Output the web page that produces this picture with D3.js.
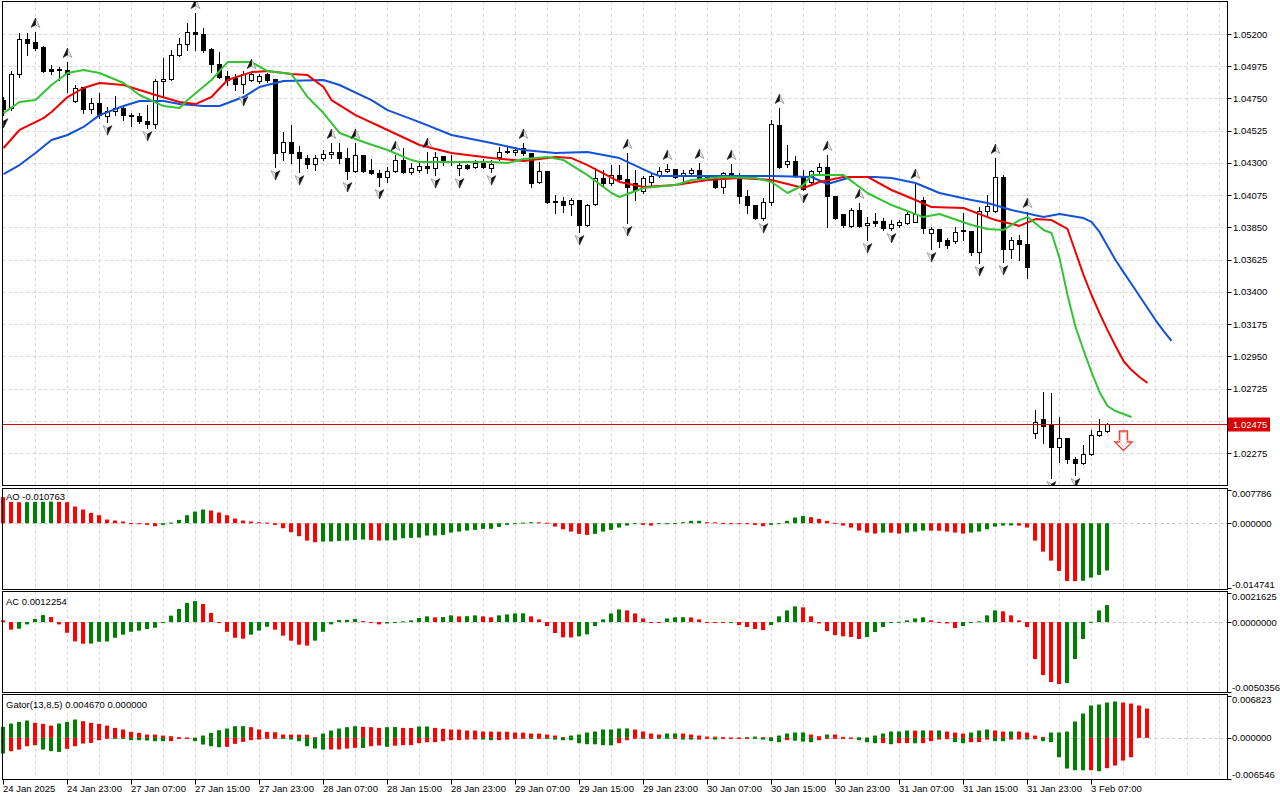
<!DOCTYPE html>
<html>
<head>
<meta charset="utf-8">
<script src="https://cdn.jsdelivr.net/npm/d3@7"></script>
<style>
  body { margin: 0; background: #fff; }
  svg { display: block; font-family: "Liberation Sans", Arial, sans-serif; }
</style>
</head>
<body>
<svg id="chart" width="1280" height="800"></svg>
<script>
// H1 bars, 24 Jan 2025 15:00 .. 3 Feb 2025 09:00
const opens = [
  1.04739,1.04683,1.04920,1.05165,1.05144,1.05109,1.04955,1.04955,1.04948,1.04732,
  1.04830,1.04676,1.04718,1.04627,1.04662,1.04683,1.04634,1.04627,1.04592,1.04571,
  1.04872,1.04886,1.05053,1.05130,1.05214,1.05200,1.05095,1.04990,1.04907,1.04893,
  1.04851,1.04879,1.04872,1.04920,1.04886,1.04376,1.04446,1.04376,1.04334,1.04292,
  1.04334,1.04362,1.04376,1.04334,1.04243,1.04355,1.04250,1.04229,1.04202,1.04243,
  1.04320,1.04236,1.04250,1.04278,1.04264,1.04348,1.04313,1.04264,1.04285,1.04271,
  1.04299,1.04264,1.04341,1.04383,1.04376,1.04404,1.04369,1.04167,1.04243,1.04034,
  1.04034,1.04013,1.04041,1.03867,1.04013,1.04195,1.04160,1.04215,1.04188,1.04160,
  1.04104,1.04167,1.04215,1.04243,1.04257,1.04209,1.04229,1.04250,1.04209,1.04195,
  1.04132,1.04229,1.04215,1.04069,1.04006,1.03915,1.04027,1.04565,1.04292,1.04313,
  1.04209,1.04167,1.04243,1.04271,1.04069,1.03943,1.03860,1.03971,1.03867,1.03894,
  1.03894,1.03846,1.03867,1.03881,1.03887,1.04041,1.03811,1.03839,1.03762,1.03755,
  1.03825,1.03825,1.03678,1.03964,1.03964,1.04202,1.03699,1.03762,1.03734,1.02415,
  1.02512,1.02471,1.02317,1.02380,1.02233,1.02205,1.02268,1.02401,1.02429
];
const highs = [
  1.04760,1.04941,1.05207,1.05207,1.05214,1.05116,1.04983,1.04969,1.05004,1.04844,
  1.04830,1.04753,1.04788,1.04690,1.04767,1.04690,1.04648,1.04648,1.04704,1.04886,
  1.05032,1.05088,1.05172,1.05276,1.05346,1.05242,1.05102,1.05074,1.04941,1.04920,
  1.04941,1.04927,1.04920,1.04927,1.04886,1.04516,1.04565,1.04418,1.04355,1.04355,
  1.04390,1.04439,1.04439,1.04404,1.04439,1.04355,1.04327,1.04250,1.04271,1.04355,
  1.04404,1.04299,1.04306,1.04376,1.04376,1.04348,1.04355,1.04299,1.04292,1.04320,
  1.04327,1.04320,1.04411,1.04418,1.04411,1.04439,1.04369,1.04306,1.04243,1.04076,
  1.04062,1.04055,1.04041,1.04013,1.04264,1.04250,1.04285,1.04285,1.04369,1.04250,
  1.04209,1.04229,1.04271,1.04292,1.04257,1.04250,1.04264,1.04299,1.04215,1.04209,
  1.04236,1.04292,1.04229,1.04111,1.04006,1.04055,1.04599,1.04683,1.04425,1.04348,
  1.04250,1.04250,1.04299,1.04355,1.04069,1.03943,1.03985,1.04020,1.03922,1.03950,
  1.03915,1.03901,1.03901,1.03957,1.04160,1.04062,1.03853,1.03839,1.03776,1.03853,
  1.03950,1.03825,1.03992,1.04076,1.04334,1.04215,1.03783,1.03797,1.03957,1.02575,
  1.02701,1.02694,1.02526,1.02380,1.02247,1.02331,1.02436,1.02512,1.02484
];
const lows = [
  1.04634,1.04669,1.04900,1.05053,1.05088,1.04934,1.04920,1.04879,1.04795,1.04725,
  1.04648,1.04648,1.04613,1.04585,1.04634,1.04599,1.04558,1.04578,1.04544,1.04544,
  1.04760,1.04879,1.05046,1.05088,1.05088,1.05074,1.04934,1.04893,1.04844,1.04809,
  1.04788,1.04872,1.04858,1.04865,1.04271,1.04320,1.04299,1.04236,1.04264,1.04250,
  1.04320,1.04334,1.04299,1.04188,1.04236,1.04236,1.04222,1.04139,1.04167,1.04236,
  1.04229,1.04222,1.04236,1.04229,1.04215,1.04285,1.04285,1.04215,1.04257,1.04264,
  1.04264,1.04236,1.04320,1.04369,1.04355,1.04355,1.04132,1.04160,1.04020,1.03950,
  1.03957,1.03936,1.03818,1.03860,1.04006,1.04146,1.04146,1.04181,1.03881,1.04041,
  1.04090,1.04146,1.04202,1.04236,1.04195,1.04167,1.04215,1.04188,1.04181,1.04125,
  1.04090,1.04195,1.04020,1.03950,1.03908,1.03901,1.04006,1.04264,1.04271,1.04202,
  1.04111,1.04153,1.04229,1.03852,1.03908,1.03852,1.03852,1.03852,1.03762,1.03860,
  1.03832,1.03832,1.03852,1.03874,1.03887,1.03811,1.03699,1.03713,1.03706,1.03741,
  1.03762,1.03657,1.03601,1.03922,1.03957,1.03608,1.03636,1.03622,1.03496,1.02380,
  1.02345,1.02101,1.02212,1.02205,1.02122,1.02198,1.02261,1.02394,1.02422
];
const closes = [
  1.04676,1.04920,1.05165,1.05137,1.05102,1.04941,1.04941,1.04948,1.04920,1.04823,
  1.04676,1.04718,1.04634,1.04662,1.04683,1.04634,1.04627,1.04592,1.04571,1.04872,
  1.04886,1.05053,1.05130,1.05214,1.05200,1.05088,1.04990,1.04900,1.04879,1.04851,
  1.04920,1.04920,1.04907,1.04879,1.04369,1.04446,1.04369,1.04334,1.04292,1.04334,
  1.04362,1.04376,1.04334,1.04243,1.04355,1.04243,1.04229,1.04202,1.04243,1.04320,
  1.04236,1.04264,1.04278,1.04264,1.04341,1.04306,1.04306,1.04285,1.04264,1.04299,
  1.04271,1.04292,1.04376,1.04376,1.04390,1.04369,1.04160,1.04243,1.04027,1.04027,
  1.04006,1.04041,1.03867,1.04006,1.04195,1.04160,1.04215,1.04188,1.04132,1.04111,
  1.04195,1.04209,1.04243,1.04257,1.04202,1.04229,1.04250,1.04195,1.04195,1.04132,
  1.04229,1.04202,1.04069,1.04006,1.03915,1.04027,1.04572,1.04271,1.04313,1.04209,
  1.04118,1.04243,1.04271,1.04069,1.03915,1.03867,1.03971,1.03860,1.03881,1.03881,
  1.03846,1.03874,1.03887,1.03943,1.03943,1.03846,1.03839,1.03755,1.03727,1.03818,
  1.03832,1.03678,1.03964,1.03999,1.04202,1.03699,1.03762,1.03734,1.03573,1.02491,
  1.02463,1.02317,1.02380,1.02233,1.02205,1.02268,1.02401,1.02429,1.02475
];

// Alligator lines as [bar, price], already shifted forward (8 / 5 / 3 bars)
const jaw = [
  [0,1.04222],[2,1.04285],[4,1.04369],[6,1.04460],[8,1.04495],[10,1.04551],[12,1.04634],
  [15,1.04697],[17,1.04732],[20,1.04732],[22,1.04711],[25,1.04697],[27,1.04697],[30,1.04760],
  [32,1.04830],[35,1.04872],[40,1.04879],[42,1.04844],[46,1.04739],[48,1.04669],[52,1.04585],
  [56,1.04495],[61,1.04439],[65,1.04390],[69,1.04369],[73,1.04376],[77,1.04334],[81,1.04229],
  [82,1.04209],[88,1.04209],[92,1.04209],[96,1.04209],[101,1.04202],[103,1.04153],[106,1.04202],
  [109,1.04202],[111,1.04195],[114,1.04160],[117,1.04090],[121,1.04041],[123,1.04020],
  [126,1.03971],[130,1.03922],[132,1.03943],[135,1.03915],[136,1.03888],[137,1.03818],
  [138,1.03720],[139,1.03622],[140,1.03538],[141,1.03455],[142,1.03371],[143,1.03287],
  [144,1.03203],[145,1.03127],[146,1.03057]
];
const teeth = [
  [0,1.04404],[2,1.04530],[5,1.04613],[6,1.04655],[8,1.04760],[10,1.04823],[12,1.04858],
  [15,1.04844],[17,1.04809],[19,1.04774],[22,1.04725],[24,1.04711],[26,1.04760],[28,1.04879],
  [31,1.04934],[33,1.04941],[36,1.04920],[38,1.04913],[40,1.04830],[41,1.04739],[44,1.04634],
  [48,1.04530],[52,1.04425],[56,1.04369],[61,1.04334],[65,1.04313],[69,1.04341],[71,1.04334],
  [73,1.04285],[77,1.04167],[80,1.04132],[84,1.04146],[88,1.04181],[92,1.04195],[96,1.04181],
  [100,1.04125],[102,1.04167],[105,1.04202],[108,1.04202],[111,1.04111],[114,1.04041],
  [116,1.03992],[120,1.03985],[124,1.03901],[127,1.03860],[129,1.03908],[131,1.03901],
  [133,1.03839],[134,1.03678],[135,1.03518],[136,1.03378],[137,1.03252],[138,1.03133],
  [139,1.03022],[140,1.02917],[141,1.02854],[142,1.02806],[143,1.02764]
];
const lips = [
  [0,1.04648],[2,1.04725],[4,1.04739],[6,1.04844],[8,1.04928],[10,1.04948],[12,1.04928],
  [15,1.04858],[17,1.04774],[20,1.04697],[22,1.04683],[23,1.04739],[26,1.04879],[28,1.05004],
  [31,1.05004],[33,1.04941],[36,1.04920],[38,1.04760],[40,1.04648],[42,1.04509],[45,1.04446],
  [48,1.04390],[51,1.04320],[52,1.04306],[56,1.04306],[61,1.04306],[63,1.04299],[65,1.04327],
  [68,1.04341],[70,1.04320],[73,1.04215],[76,1.04090],[77,1.04062],[80,1.04125],[84,1.04146],
  [86,1.04181],[90,1.04202],[94,1.04195],[96,1.04167],[98,1.04090],[100,1.04146],[101,1.04215],
  [105,1.04215],[108,1.04090],[111,1.04006],[115,1.03922],[117,1.03943],[121,1.03867],
  [123,1.03839],[125,1.03832],[127,1.03901],[128,1.03922],[130,1.03832],[131,1.03811],
  [132,1.03636],[133,1.03378],[134,1.03155],[135,1.02994],[136,1.02840],[137,1.02701],
  [138,1.02603],[139,1.02568],[140,1.02547],[141,1.02526]
];

// Bill Williams fractals (bar indices)
const fractalsUp = [4,8,24,31,41,44,49,53,65,78,83,87,91,97,103,107,114,124,128];
const fractalsDown = [0,13,18,30,34,37,43,47,54,57,61,72,78,95,100,108,111,116,122,125,131,134];

const sellSignal = { bar: 140, price: 1.02430 };

const aoValues = [
  0.00592,0.00484,0.00478,0.00481,0.00485,0.00488,0.00492,0.00486,0.00479,0.00380,
  0.00311,0.00235,0.00182,0.00084,0.00061,0.00038,0.00003,-0.00015,-0.00038,-0.00068,
  -0.00038,0.00015,0.00076,0.00182,0.00266,0.00311,0.00289,0.00243,0.00182,0.00106,
  0.00061,0.00038,0.00023,0.00015,-0.00038,-0.00114,-0.00205,-0.00296,-0.00395,-0.00433,
  -0.00418,-0.00416,-0.00403,-0.00395,-0.00380,-0.00372,-0.00380,-0.00395,-0.00392,-0.00388,
  -0.00342,-0.00335,-0.00327,-0.00281,-0.00279,-0.00266,-0.00213,-0.00190,-0.00167,-0.00152,
  -0.00129,-0.00127,-0.00084,-0.00038,-0.00008,0.00015,0.00023,0.00021,0.00012,-0.00076,
  -0.00137,-0.00190,-0.00243,-0.00266,-0.00243,-0.00190,-0.00152,-0.00099,-0.00053,-0.00023,
  -0.00038,-0.00053,-0.00015,-0.00008,0.00002,0.00023,0.00053,0.00055,0.00023,0.00021,
  0.00008,-0.00001,-0.00008,-0.00015,-0.00038,-0.00068,-0.00038,-0.00008,0.00053,0.00129,
  0.00167,0.00137,0.00099,0.00053,0.00008,-0.00053,-0.00099,-0.00167,-0.00213,-0.00235,
  -0.00213,-0.00215,-0.00235,-0.00213,-0.00190,-0.00167,-0.00169,-0.00172,-0.00190,-0.00213,
  -0.00235,-0.00213,-0.00190,-0.00137,-0.00076,-0.00053,-0.00051,-0.00055,-0.00099,-0.00395,
  -0.00646,-0.00851,-0.01086,-0.01314,-0.01318,-0.01310,-0.01238,-0.01177,-0.010763
];
const acValues = [
  0.00012,-0.00055,-0.00048,-0.00017,0.00022,0.00050,0.00036,-0.00017,-0.00077,-0.00139,
  -0.00156,-0.00155,-0.00142,-0.00140,-0.00113,-0.00091,-0.00070,-0.00062,-0.00050,-0.00041,
  -0.00005,0.00046,0.00094,0.00137,0.00151,0.00130,0.00065,-0.00005,-0.00070,-0.00113,
  -0.00120,-0.00091,-0.00062,-0.00034,-0.00055,-0.00098,-0.00134,-0.00163,-0.00170,-0.00134,
  -0.00070,-0.00017,0.00014,0.00016,0.00022,0.00007,-0.00002,-0.00017,-0.00010,-0.00002,
  0.00005,0.00012,0.00029,0.00041,0.00034,0.00036,0.00048,0.00041,0.00042,0.00048,
  0.00041,0.00034,0.00048,0.00055,0.00062,0.00063,0.00041,0.00019,-0.00029,-0.00079,
  -0.00110,-0.00111,-0.00103,-0.00089,-0.00029,0.00019,0.00062,0.00091,0.00084,0.00062,
  0.00026,-0.00002,-0.00003,0.00026,0.00034,0.00035,0.00033,0.00019,0.00001,-0.00002,
  -0.00007,-0.00006,-0.00022,-0.00036,-0.00050,-0.00058,-0.00022,0.00041,0.00084,0.00113,
  0.00106,0.00041,-0.00010,-0.00065,-0.00094,-0.00103,-0.00108,-0.00122,-0.00108,-0.00072,
  -0.00036,-0.00007,0.00002,0.00012,0.00026,0.00034,0.00012,0.00001,-0.00010,-0.00043,
  -0.00029,-0.00001,0.00005,0.00048,0.00084,0.00077,0.00048,0.00012,-0.00036,-0.00266,
  -0.00381,-0.00432,-0.00446,-0.00439,-0.00266,-0.00122,0.00002,0.00084,0.0012254
];
const gatorUp = [
  0.00175,0.00228,0.00255,0.00276,0.00239,0.00223,0.00196,0.00228,0.00255,0.00292,
  0.00265,0.00239,0.00223,0.00196,0.00159,0.00133,0.00095,0.00080,0.00053,0.00052,
  0.00037,0.00027,0.00011,0.00005,0.00002,0.00037,0.00080,0.00122,0.00149,0.00186,
  0.00187,0.00170,0.00133,0.00095,0.00090,0.00053,0.00052,0.00051,0.00050,0.00010,
  0.00069,0.00117,0.00149,0.00170,0.00186,0.00175,0.00170,0.00159,0.00170,0.00172,
  0.00159,0.00158,0.00180,0.00181,0.00159,0.00143,0.00133,0.00132,0.00117,0.00116,
  0.00101,0.00100,0.00099,0.00098,0.00085,0.00084,0.00069,0.00068,0.00053,0.00037,
  0.00011,0.00037,0.00053,0.00085,0.00101,0.00133,0.00134,0.00149,0.00150,0.00133,
  0.00101,0.00069,0.00053,0.00069,0.00070,0.00069,0.00053,0.00037,0.00021,0.00020,
  0.00010,0.00005,0.00004,0.00011,0.00021,0.00010,0.00009,0.00037,0.00069,0.00085,
  0.00086,0.00053,0.00027,0.00053,0.00052,0.00016,0.00005,0.00008,0.00004,0.00037,
  0.00069,0.00101,0.00102,0.00117,0.00116,0.00118,0.00117,0.00118,0.00101,0.00085,
  0.00069,0.00085,0.00117,0.00133,0.00117,0.00101,0.00102,0.00101,0.00085,0.00037,
  0.00016,0.00085,0.00086,0.00101,0.00260,0.00387,0.00515,0.00531,0.00562,0.00578,
  0.00562,0.00546,0.00515,0.00467
];
const gatorDown = [
  -0.00249,-0.00212,-0.00186,-0.00133,-0.00117,-0.00186,-0.00212,-0.00223,-0.00175,-0.00133,
  -0.00090,-0.00080,-0.00037,-0.00010,-0.00011,-0.00012,-0.00037,-0.00038,-0.00042,-0.00053,
  -0.00054,-0.00052,-0.00016,-0.00005,-0.00053,-0.00106,-0.00133,-0.00149,-0.00143,-0.00095,
  -0.00064,-0.00037,-0.00027,-0.00016,-0.00005,-0.00011,-0.00027,-0.00053,-0.00133,-0.00170,
  -0.00186,-0.00185,-0.00184,-0.00170,-0.00159,-0.00160,-0.00133,-0.00122,-0.00143,-0.00125,
  -0.00117,-0.00116,-0.00085,-0.00069,-0.00068,-0.00053,-0.00037,-0.00036,-0.00027,-0.00026,
  -0.00027,-0.00037,-0.00036,-0.00027,-0.00011,-0.00010,-0.00011,-0.00010,-0.00012,-0.00027,
  -0.00037,-0.00038,-0.00085,-0.00101,-0.00102,-0.00117,-0.00118,-0.00085,-0.00037,-0.00011,
  -0.00012,-0.00011,-0.00012,-0.00013,-0.00011,-0.00027,-0.00028,-0.00027,-0.00011,-0.00027,
  -0.00011,-0.00005,-0.00004,-0.00003,-0.00011,-0.00027,-0.00053,-0.00069,-0.00037,-0.00045,
  -0.00060,-0.00069,-0.00037,-0.00011,-0.00010,-0.00005,-0.00003,-0.00037,-0.00069,-0.00085,
  -0.00084,-0.00101,-0.00085,-0.00084,-0.00086,-0.00085,-0.00053,-0.00027,-0.00021,-0.00069,
  -0.00085,-0.00069,-0.00068,-0.00027,-0.00053,-0.00054,-0.00027,-0.00026,-0.00027,-0.00021,
  -0.00053,-0.00069,-0.00308,-0.00488,-0.00515,-0.00516,-0.00514,-0.00531,-0.00483,-0.00440,
  -0.00361,-0.00308
];

const priceTicks = [1.05200,1.04975,1.04750,1.04525,1.04300,1.04075,1.03850,1.03625,1.03400,1.03175,1.02950,1.02725,1.02500,1.02275];
const aoTicks = [0.007786, 0, -0.014741];
const acTicks = [0.0021625, 0, -0.0050356];
const gatorTicks = [0.006823, 0, -0.006546];
const timeLabels = [
  "24 Jan 2025","24 Jan 23:00","27 Jan 07:00","27 Jan 15:00","27 Jan 23:00","28 Jan 07:00",
  "28 Jan 15:00","28 Jan 23:00","29 Jan 07:00","29 Jan 15:00","29 Jan 23:00","30 Jan 07:00",
  "30 Jan 15:00","30 Jan 23:00","31 Jan 07:00","31 Jan 15:00","31 Jan 23:00","3 Feb 07:00"
];

const svg = d3.select("#chart");

const plotLeft = 2.5;
const plotRight = 1227.5;
const axisX = 1233;
const green = "#008000";
const red = "#ff0000";
const gridColor = "#d4d4d4";

const panels = {
  main: { top: 1.5, bottom: 485.5 },
  ao: { top: 488.5, bottom: 589.5 },
  ac: { top: 591.5, bottom: 692.5 },
  gator: { top: 694.5, bottom: 779.5 },
};

// one bar every 8 px
const x = d3.scaleLinear().domain([0, 153]).range([3, 3 + 8 * 153]);
const y = d3.scaleLinear().domain([1.02275, 1.052]).range([453, 34]);
const yAO = d3.scaleLinear().domain([-0.014741, 0.007786]).range([588, 489]);
const yAC = d3.scaleLinear().domain([-0.0050356, 0.0021625]).range([692, 592]);
const yGator = d3.scaleLinear().domain([-0.006546, 0.006823]).range([779, 695]);

const crisp = (v) => Math.round(v) + 0.5;

/* GRID */
Object.values(panels).forEach((p) => {
  svg
    .append("g")
    .selectAll("line")
    .data(d3.range(4, 153, 4))
    .join("line")
    .attr("x1", (d) => x(d) + 0.5)
    .attr("x2", (d) => x(d) + 0.5)
    .attr("y1", p.top)
    .attr("y2", p.bottom)
    .attr("stroke", gridColor)
    .attr("stroke-dasharray", "3,3");
});

svg
  .append("g")
  .selectAll("line")
  .data(priceTicks)
  .join("line")
  .attr("x1", plotLeft)
  .attr("x2", plotRight)
  .attr("y1", (d) => crisp(y(d)))
  .attr("y2", (d) => crisp(y(d)))
  .attr("stroke", gridColor)
  .attr("stroke-dasharray", "3,3");

[yAO, yAC, yGator].forEach((s) => {
  svg
    .append("line")
    .attr("x1", plotLeft)
    .attr("x2", plotRight)
    .attr("y1", crisp(s(0)))
    .attr("y2", crisp(s(0)))
    .attr("stroke", "#c8c8c8")
    .attr("stroke-dasharray", "3,3");
});

/* MAIN CHART */
svg
  .append("defs")
  .append("clipPath")
  .attr("id", "clip-main")
  .append("rect")
  .attr("x", plotLeft)
  .attr("y", panels.main.top)
  .attr("width", plotRight - plotLeft)
  .attr("height", panels.main.bottom - panels.main.top);

const main = svg.append("g").attr("clip-path", "url(#clip-main)");

const candles = opens.map((o, i) => ({ i, o, h: highs[i], l: lows[i], c: closes[i] }));

main
  .append("g")
  .selectAll("line")
  .data(candles)
  .join("line")
  .attr("x1", (d) => x(d.i) + 0.5)
  .attr("x2", (d) => x(d.i) + 0.5)
  .attr("y1", (d) => Math.round(y(d.h)))
  .attr("y2", (d) => Math.round(y(d.l)) + 1)
  .attr("stroke", "#000");

main
  .append("g")
  .selectAll("rect")
  .data(candles)
  .join("rect")
  .attr("x", (d) => x(d.i) - 1.5)
  .attr("width", 4)
  .attr("y", (d) => crisp(y(Math.max(d.o, d.c))))
  .attr("height", (d) => Math.max(0, crisp(y(Math.min(d.o, d.c))) - crisp(y(Math.max(d.o, d.c)))))
  .attr("fill", (d) => (d.c >= d.o ? "#fff" : "#000"))
  .attr("stroke", "#000");

// Alligator
const alligatorLine = d3
  .line()
  .x((d) => x(d[0]) + 0.5)
  .y((d) => y(d[1]));

[
  [jaw, "#1252d8"],
  [teeth, "#f00000"],
  [lips, "#33c433"],
].forEach(([data, color]) => {
  main
    .append("path")
    .datum(data)
    .attr("fill", "none")
    .attr("stroke", color)
    .attr("stroke-width", 2)
    .attr("stroke-linejoin", "round")
    .attr("d", alligatorLine);
});

// Fractal arrows: up has the dark half on the left, down is the same glyph turned round
function fractal(cx, cy, dir) {
  const g = main.append("g").attr("transform", `translate(${cx},${cy}) scale(${dir},${dir})`);
  g.append("path").attr("d", "M0,-5L4.5,4.5L0,2Z").attr("fill", "#e6e6e6").attr("stroke", "#8a8a8a").attr("stroke-width", 0.7);
  g.append("path").attr("d", "M0,-5L0,2L-4.5,4.5Z").attr("fill", "#111").attr("stroke", "#111").attr("stroke-width", 0.5);
}

fractalsUp.forEach((i) => fractal(x(i) + 0.5, y(highs[i]) - 9, 1));
fractalsDown.forEach((i) => fractal(x(i) + 0.5, y(lows[i]) + 8, -1));

// Sell signal arrow
const sx = x(sellSignal.bar) + 0.5;
const sy = Math.round(y(sellSignal.price));
const arrowPath = "M-4,0L4,0L4,11L8.5,11L0,19.5L-8.5,11L-4,11Z";
main
  .append("path")
  .attr("transform", `translate(${sx},${sy})`)
  .attr("d", arrowPath)
  .attr("fill", "#fff")
  .attr("stroke", "#f03c3c")
  .attr("stroke-width", 1.4);
main
  .append("path")
  .attr("transform", `translate(${sx},${sy + 1.5}) scale(0.72)`)
  .attr("d", arrowPath)
  .attr("fill", "none")
  .attr("stroke", "#ffb3a0")
  .attr("stroke-width", 1.2);

// Current price line
const lastPrice = closes[closes.length - 1];
const lastY = crisp(y(lastPrice));
main
  .append("line")
  .attr("x1", plotLeft)
  .attr("x2", plotRight)
  .attr("y1", lastY)
  .attr("y2", lastY)
  .attr("stroke", "#d80000");

/* INDICATOR HISTOGRAMS */
function histogram(values, scale, colorOf) {
  const zero = scale(0);
  svg
    .append("g")
    .selectAll("rect")
    .data(values)
    .join("rect")
    .attr("x", (d, i) => x(i) - 2)
    .attr("width", 4)
    .attr("y", (d) => Math.min(scale(d), zero))
    .attr("height", (d) => Math.max(Math.abs(scale(d) - zero), 1))
    .attr("fill", (d, i) => colorOf(d, i));
}

const byChange = (values) => (d, i) => (i > 0 && d > values[i - 1] ? green : red);

histogram(aoValues, yAO, byChange(aoValues));
histogram(acValues, yAC, byChange(acValues));
histogram(gatorUp, yGator, (d, i) => (i === 0 || d > gatorUp[i - 1] ? green : red));
histogram(gatorDown, yGator, (d, i) => (i === 0 || Math.abs(d) > Math.abs(gatorDown[i - 1]) ? green : red));

/* FRAMES */
Object.values(panels).forEach((p) => {
  svg
    .append("rect")
    .attr("x", plotLeft)
    .attr("y", p.top)
    .attr("width", plotRight - plotLeft)
    .attr("height", p.bottom - p.top)
    .attr("fill", "none")
    .attr("stroke", "#000");
});

/* PRICE AXIS */
const axisText = (g) =>
  g.attr("font-size", "9.5px").attr("fill", "#000").attr("dominant-baseline", "central");

const priceAxis = svg.append("g");
priceAxis
  .selectAll("line")
  .data(priceTicks)
  .join("line")
  .attr("x1", plotRight)
  .attr("x2", plotRight + 4)
  .attr("y1", (d) => crisp(y(d)))
  .attr("y2", (d) => crisp(y(d)))
  .attr("stroke", "#000");
priceAxis
  .selectAll("text")
  .data(priceTicks.filter((d) => Math.abs(y(d) - lastY) > 9))
  .join("text")
  .attr("x", axisX)
  .attr("y", (d) => y(d))
  .text((d) => d.toFixed(5))
  .call(axisText);

svg
  .append("rect")
  .attr("x", plotRight + 0.5)
  .attr("y", lastY - 7)
  .attr("width", 42)
  .attr("height", 14)
  .attr("fill", "#d80000");
svg
  .append("text")
  .attr("x", axisX)
  .attr("y", lastY)
  .text(lastPrice.toFixed(5))
  .call(axisText)
  .attr("fill", "#fff");

// Indicator scales
[
  [aoTicks, yAO, panels.ao, 6],
  [acTicks, yAC, panels.ac, 7],
  [gatorTicks, yGator, panels.gator, 6],
].forEach(([ticks, scale, p, digits]) => {
  const g = svg.append("g");
  g.selectAll("line")
    .data(ticks)
    .join("line")
    .attr("x1", plotRight)
    .attr("x2", plotRight + 4)
    .attr("y1", (d) => crisp(Math.min(Math.max(scale(d), p.top + 1), p.bottom - 1)))
    .attr("y2", (d) => crisp(Math.min(Math.max(scale(d), p.top + 1), p.bottom - 1)))
    .attr("stroke", "#000");
  g.selectAll("text")
    .data(ticks)
    .join("text")
    .attr("x", axisX - 1)
    .attr("y", (d) => Math.min(Math.max(scale(d), p.top + 4.5), p.bottom - 5))
    .text((d) => d.toFixed(digits))
    .call(axisText);
});

/* INDICATOR TITLES */
const lastUp = gatorUp[gatorUp.length - 1];
const lastDown = gatorDown[gatorUp.length - 1] || 0;
[
  [`AO ${aoValues[aoValues.length - 1].toFixed(6)}`, 500],
  [`AC ${acValues[acValues.length - 1].toFixed(7)}`, 605],
  [`Gator(13,8,5) ${lastUp.toFixed(6)} ${Math.abs(lastDown).toFixed(6)}`, 708],
].forEach(([label, ty]) => {
  svg.append("text").attr("x", 6).attr("y", ty).attr("font-size", "9.5px").text(label);
});

/* TIME AXIS */
const timeAxis = svg.append("g");
const timeBars = timeLabels.map((t, k) => ({ t, i: k * 8 }));
timeAxis
  .selectAll("line")
  .data(timeBars)
  .join("line")
  .attr("x1", (d) => x(d.i) + 0.5)
  .attr("x2", (d) => x(d.i) + 0.5)
  .attr("y1", panels.gator.bottom)
  .attr("y2", panels.gator.bottom + 5)
  .attr("stroke", "#000");
timeAxis
  .selectAll("text")
  .data(timeBars)
  .join("text")
  .attr("x", (d) => x(d.i))
  .attr("y", 792)
  .attr("font-size", "9.5px")
  .text((d) => d.t);
</script>
</body>
</html>
